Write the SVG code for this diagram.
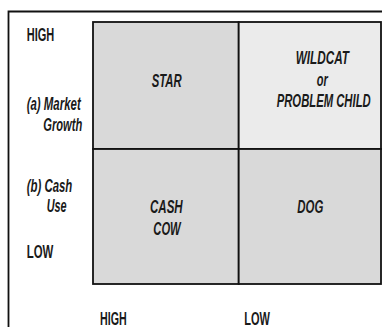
<svg xmlns="http://www.w3.org/2000/svg" width="382" height="327" viewBox="0 0 382 327">
<style>
text{font-family:"Liberation Sans Narrow","Liberation Sans",Arial,sans-serif;font-size:18px;font-weight:bold;fill:#1a1a1a;}
.i{font-style:italic;}
.cell{stroke:#111;stroke-width:1.8;}
.dark{fill:#d9d9d9;}
.light{fill:#ebebeb;}
</style>
<rect width="382" height="327" fill="#fff"/>
<g id="frame">
<path d="M8.5,330 V11.5 H384" fill="none" stroke="#111" stroke-width="1.8"/>
</g>
<g id="star">
<rect class="cell dark" x="93" y="22" width="145.7" height="127"/>
<text class="i" x="151.7" y="87" textLength="30" lengthAdjust="spacingAndGlyphs">STAR</text>
</g>
<g id="wildcat">
<rect class="cell light" x="238.7" y="22" width="142.3" height="127"/>
<text class="i" x="295.7" y="64" textLength="53.3" lengthAdjust="spacingAndGlyphs">WILDCAT</text>
<text class="i" x="316.7" y="85.7" textLength="11" lengthAdjust="spacingAndGlyphs">or</text>
<text class="i" x="276.7" y="106.7" textLength="94" lengthAdjust="spacingAndGlyphs">PROBLEM CHILD</text>
</g>
<g id="cashcow">
<rect class="cell dark" x="93" y="149" width="145.7" height="135"/>
<text class="i" x="150" y="213.3" textLength="32.7" lengthAdjust="spacingAndGlyphs">CASH</text>
<text class="i" x="153.3" y="235" textLength="27.4" lengthAdjust="spacingAndGlyphs">COW</text>
</g>
<g id="dog">
<rect class="cell dark" x="238.7" y="149" width="142.3" height="135"/>
<text class="i" x="297.3" y="212.7" textLength="26" lengthAdjust="spacingAndGlyphs">DOG</text>
</g>
<g id="axis-y">
<text x="26.7" y="41" textLength="27.6" lengthAdjust="spacingAndGlyphs">HIGH</text>
<text class="i" x="26.7" y="109.5" textLength="54" lengthAdjust="spacingAndGlyphs">(a) Market</text>
<text class="i" x="43.3" y="130.5" textLength="39" lengthAdjust="spacingAndGlyphs">Growth</text>
<text class="i" x="26.7" y="191.7" textLength="45.6" lengthAdjust="spacingAndGlyphs">(b) Cash</text>
<text class="i" x="46.7" y="212.3" textLength="20" lengthAdjust="spacingAndGlyphs">Use</text>
<text x="26.7" y="258.3" textLength="26.6" lengthAdjust="spacingAndGlyphs">LOW</text>
</g>
<g id="axis-x">
<text x="100" y="324.5" textLength="26.7" lengthAdjust="spacingAndGlyphs">HIGH</text>
<text x="244.3" y="324.5" textLength="25.7" lengthAdjust="spacingAndGlyphs">LOW</text>
</g>
<g id="connectors"></g>
</svg>
